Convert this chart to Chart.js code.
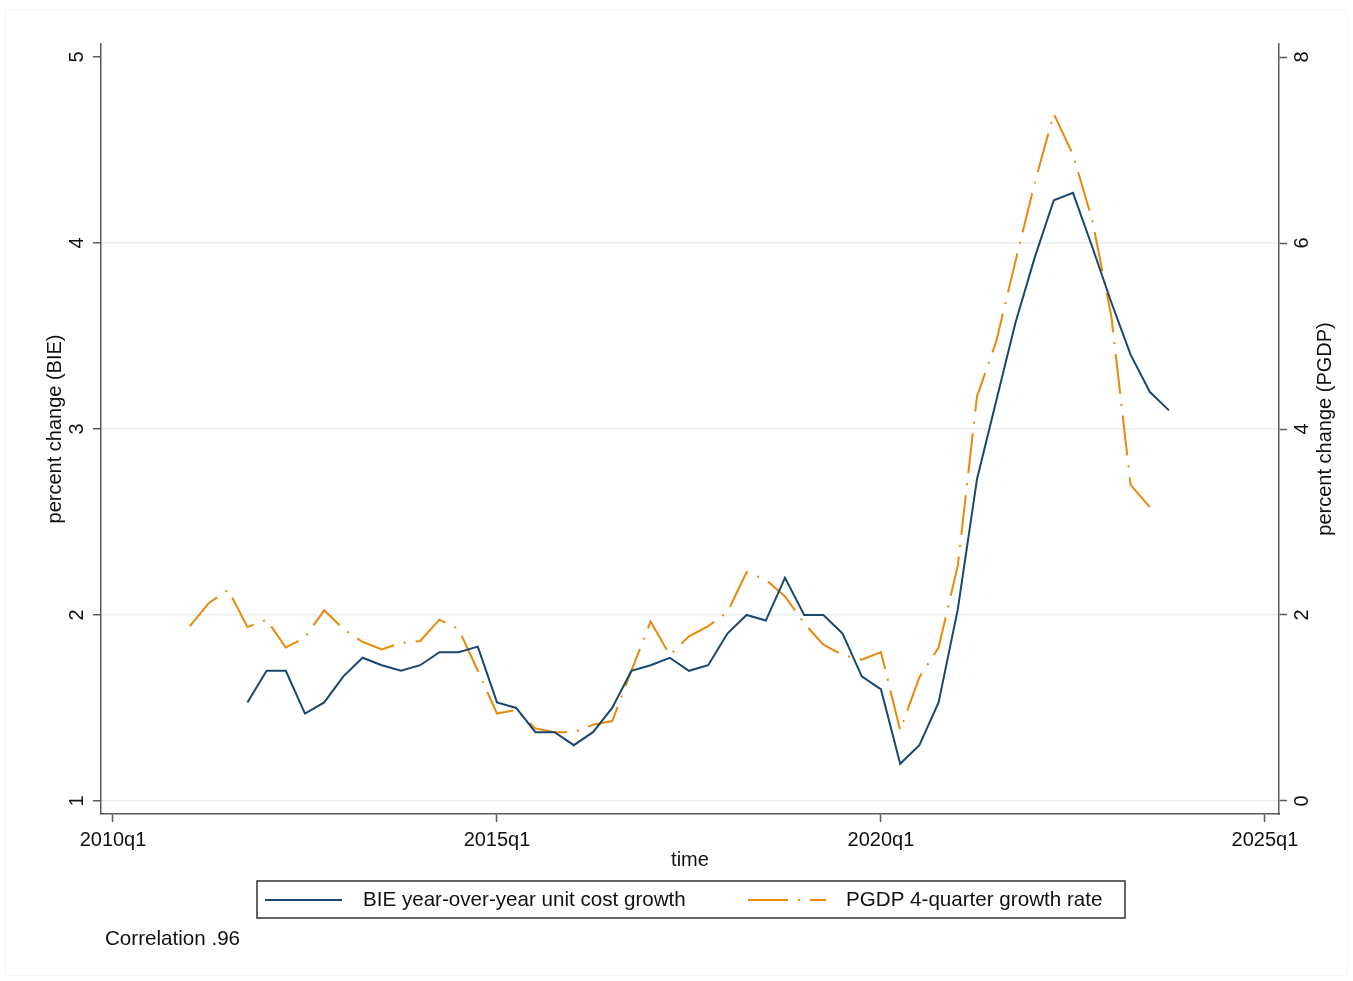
<!DOCTYPE html>
<html>
<head>
<meta charset="utf-8">
<script src="https://cdn.jsdelivr.net/npm/chart.js@4.4.1/dist/chart.umd.min.js"></script>
<style>
  html, body { margin: 0; padding: 0; background: #fff; }
  #wrap { width: 1353px; height: 981px; }
</style>
</head>
<body>
<div id="wrap"><canvas id="chart" width="1353" height="981"></canvas></div>
<script>
// quarters covered by the two series
const quarters = [
  '2011q1', '2011q2', '2011q3', '2011q4',
  '2012q1', '2012q2', '2012q3', '2012q4',
  '2013q1', '2013q2', '2013q3', '2013q4',
  '2014q1', '2014q2', '2014q3', '2014q4',
  '2015q1', '2015q2', '2015q3', '2015q4',
  '2016q1', '2016q2', '2016q3', '2016q4',
  '2017q1', '2017q2', '2017q3', '2017q4',
  '2018q1', '2018q2', '2018q3', '2018q4',
  '2019q1', '2019q2', '2019q3', '2019q4',
  '2020q1', '2020q2', '2020q3', '2020q4',
  '2021q1', '2021q2', '2021q3', '2021q4',
  '2022q1', '2022q2', '2022q3', '2022q4',
  '2023q1', '2023q2', '2023q3', '2023q4'
]

// BIE year-over-year unit cost growth (left axis)
const bieGrowth = [
  null, null, null, 1.53,
  1.70, 1.70, 1.47, 1.53,
  1.67, 1.77, 1.73, 1.70,
  1.73, 1.80, 1.80, 1.83,
  1.53, 1.50, 1.37, 1.37,
  1.30, 1.37, 1.50, 1.70,
  1.73, 1.77, 1.70, 1.73,
  1.90, 2.00, 1.97, 2.20,
  2.00, 2.00, 1.90, 1.67,
  1.60, 1.20, 1.30, 1.53,
  2.03, 2.73, 3.15, 3.57,
  3.92, 4.23, 4.27, 3.98,
  3.68, 3.40, 3.20, 3.10
]

// PGDP 4-quarter growth rate (right axis)
const pgdpGrowth = [
  1.88, 2.13, 2.27, 1.87,
  1.95, 1.65, 1.76, 2.05,
  1.85, 1.71, 1.63, 1.70,
  1.72, 1.95, 1.85, 1.40,
  0.94, 0.98, 0.78, 0.74,
  0.74, 0.82, 0.86, 1.40,
  1.93, 1.57, 1.77, 1.88,
  2.03, 2.46, 2.38, 2.20,
  1.91, 1.68, 1.57, 1.52,
  1.60, 0.76, 1.33, 1.65,
  2.53, 4.35, 4.94, 5.80,
  6.64, 7.39, 6.95, 6.25,
  5.21, 3.40, 3.16, null
]

const xTickLabels = ['2010q1', '2015q1', '2020q1', '2025q1']
const bieTicks = [1, 2, 3, 4, 5]
const pgdpTicks = [0, 2, 4, 6, 8]

const FONT = '"Liberation Sans", Arial, sans-serif'
const BLUE = '#1a476f'
const ORANGE = '#e8890c'
const AXIS = '#5a5a5a'
const TEXT = '#111111'

// quarters since 2010q1
function qIndex(label) {
  const year = parseInt(label.slice(0, 4))
  const q = parseInt(label.slice(5))
  return (year - 2010) * 4 + (q - 1)
}

const bieData = quarters.map((q, i) => ({ x: qIndex(q), y: bieGrowth[i] }))
const pgdpData = quarters.map((q, i) => ({ x: qIndex(q), y: pgdpGrowth[i] }))

const setTicks = (values) => (scale) => {
  scale.ticks = values.map((v) => ({ value: v }))
}

// legend box, right axis title and note, drawn Stata-style
const extras = {
  id: 'extras',
  afterDraw(chart) {
    const ctx = chart.ctx
    ctx.save()

    ctx.strokeStyle = '#f6f6f6'
    ctx.lineWidth = 1
    ctx.strokeRect(5.5, 9.5, 1342, 966)

    // right axis title
    const area = chart.chartArea
    ctx.fillStyle = TEXT
    ctx.font = '20px ' + FONT
    ctx.textAlign = 'center'
    ctx.textBaseline = 'middle'
    ctx.translate(1325, (area.top + area.bottom) / 2)
    ctx.rotate(-Math.PI / 2)
    ctx.fillText('percent change (PGDP)', 0, 0)
    ctx.setTransform(1, 0, 0, 1, 0, 0)

    // legend
    ctx.strokeStyle = '#333'
    ctx.lineWidth = 1.5
    ctx.strokeRect(257, 881, 868, 37)
    ctx.font = '20.6px ' + FONT
    const items = [
      { x0: 265, x1: 342, tx: 363 },
      { x0: 748, x1: 826, tx: 846 }
    ]
    chart.data.datasets.forEach((ds, i) => {
      const it = items[i]
      ctx.beginPath()
      ctx.strokeStyle = ds.borderColor
      ctx.lineWidth = ds.borderWidth
      ctx.setLineDash(ds.borderDash || [])
      ctx.moveTo(it.x0, 900)
      ctx.lineTo(it.x1, 900)
      ctx.stroke()
      ctx.setLineDash([])
      ctx.fillStyle = TEXT
      ctx.textAlign = 'left'
      ctx.textBaseline = 'middle'
      ctx.fillText(ds.label, it.tx, 900)
    })

    ctx.fillText('Correlation .96', 105, 939)
    ctx.restore()
  }
}

new Chart(document.getElementById('chart'), {
  type: 'line',
  data: {
    datasets: [
      {
        label: 'BIE year-over-year unit cost growth',
        data: bieData,
        yAxisID: 'y',
        borderColor: BLUE,
        borderWidth: 2,
        pointRadius: 0,
        tension: 0,
        spanGaps: false
      },
      {
        label: 'PGDP 4-quarter growth rate',
        data: pgdpData,
        yAxisID: 'y2',
        borderColor: ORANGE,
        borderWidth: 2,
        borderDash: [40, 10, 2, 10],
        pointRadius: 0,
        tension: 0,
        spanGaps: false
      }
    ]
  },
  options: {
    responsive: false,
    animation: false,
    devicePixelRatio: 1,
    layout: { padding: { top: 44, left: 0, right: 0, bottom: 0 } },
    plugins: {
      legend: { display: false },
      tooltip: { enabled: false }
    },
    scales: {
      x: {
        type: 'linear',
        position: 'bottom',
        min: -0.625,
        max: 60.73,
        afterBuildTicks: setTicks([0, 20, 40, 60]),
        afterFit: (scale) => { scale.height = 167 },
        ticks: {
          callback: (value) => xTickLabels[value / 20],
          color: TEXT,
          font: { family: FONT, size: 20 },
          padding: 6,
          maxRotation: 0
        },
        grid: {
          drawOnChartArea: false,
          drawTicks: true,
          tickLength: 8,
          tickColor: AXIS,
          tickWidth: 1.5
        },
        border: { display: true, color: AXIS, width: 1.5 },
        title: {
          display: true,
          text: 'time',
          color: TEXT,
          font: { family: FONT, size: 20 },
          padding: { top: 0, bottom: 109 }
        }
      },
      y: {
        type: 'linear',
        position: 'left',
        min: 0.93,
        max: 5.07,
        afterBuildTicks: setTicks(bieTicks),
        afterFit: (scale) => { scale.width = 101 },
        ticks: {
          color: TEXT,
          font: { family: FONT, size: 20 },
          minRotation: 90,
          maxRotation: 90,
          crossAlign: 'center',
          padding: 10
        },
        grid: {
          color: (c) => (c.tick && c.tick.value === 5 ? 'rgba(0,0,0,0)' : '#e7eef1'),
          lineWidth: 1.5,
          drawTicks: true,
          tickLength: 8,
          tickColor: AXIS,
          tickWidth: 1.5
        },
        border: { display: true, color: AXIS, width: 1.5 },
        title: {
          display: true,
          text: 'percent change (BIE)',
          color: TEXT,
          font: { family: FONT, size: 20 },
          padding: { top: 43, bottom: 0 }
        }
      },
      y2: {
        type: 'linear',
        position: 'right',
        min: -0.14,
        max: 8.14,
        afterBuildTicks: setTicks(pgdpTicks),
        afterFit: (scale) => { scale.width = 74 },
        ticks: {
          color: TEXT,
          font: { family: FONT, size: 20 },
          minRotation: 90,
          maxRotation: 90,
          crossAlign: 'center',
          padding: 10
        },
        grid: {
          drawOnChartArea: false,
          drawTicks: true,
          tickLength: 8,
          tickColor: AXIS,
          tickWidth: 1.5
        },
        border: { display: true, color: AXIS, width: 1.5 }
      }
    }
  },
  plugins: [extras]
})
</script>
</body>
</html>
